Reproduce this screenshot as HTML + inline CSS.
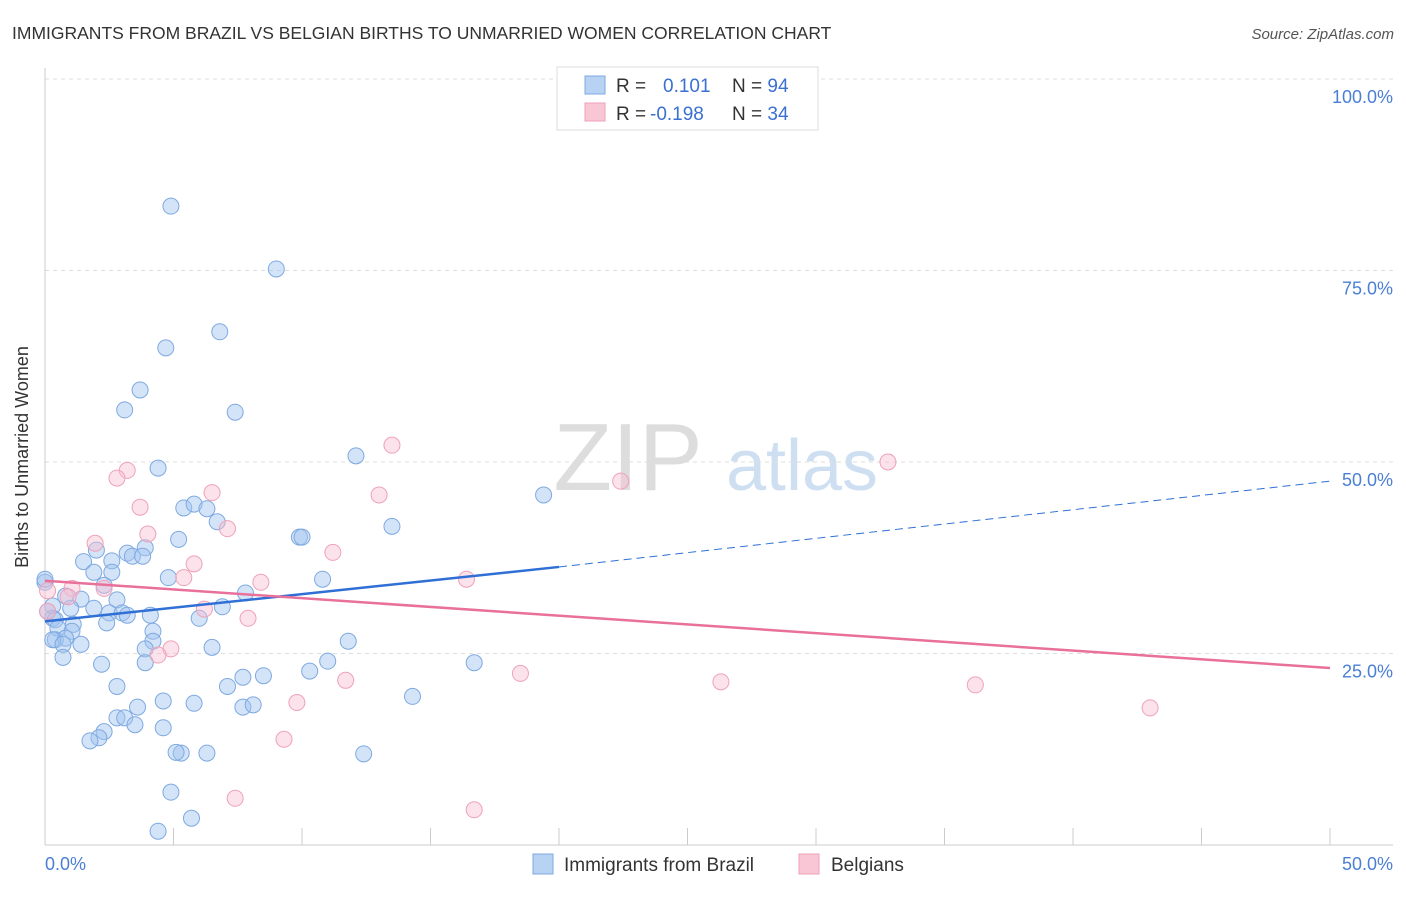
<!DOCTYPE html>
<html><head><meta charset="utf-8"><style>
body{margin:0;background:#fff;font-family:"Liberation Sans",sans-serif}
svg text{font-family:"Liberation Sans",sans-serif}
</style></head><body>
<svg id="chart" width="1406" height="892" xmlns="http://www.w3.org/2000/svg">
<text x="12" y="39" font-size="17.5" fill="#333">IMMIGRANTS FROM BRAZIL VS BELGIAN BIRTHS TO UNMARRIED WOMEN CORRELATION CHART</text>
<text x="1394" y="39" font-size="15" fill="#555" font-style="italic" text-anchor="end">Source: ZipAtlas.com</text>
<g>
<text x="628" y="490" font-size="96" fill="#ddd" font-family="Liberation Serif,serif" text-anchor="middle">ZIP</text>
<text x="802" y="490" font-size="72" fill="#cfdff2" text-anchor="middle">atlas</text>
</g>
<g id="grid"></g>
<line x1="45" y1="68" x2="45" y2="845" stroke="#ccc"/>
<line x1="45" y1="845" x2="1393" y2="845" stroke="#ccc"/>
<text x="28" y="457" font-size="18" fill="#333" text-anchor="middle" transform="rotate(-90 28 457)">Births to Unmarried Women</text>
<text x="45" y="870" font-size="18" fill="#4a7fd4">0.0%</text>
<text x="1393" y="870" font-size="18" fill="#4a7fd4" text-anchor="end">50.0%</text>
<g id="points"></g>
<g id="trends"></g>
<g>
<rect x="557" y="67" width="261" height="63" fill="#fff" stroke="#ddd"/>
<rect x="585" y="76" width="20" height="18" fill="#b7d2f3" stroke="#7ea9e0"/>
<rect x="585" y="103" width="20" height="18" fill="#f9c6d5" stroke="#eea2b8"/>
<text x="616" y="92" font-size="19" fill="#333">R = <tspan fill="#3a70d0" x="663">0.101</tspan><tspan x="732" fill="#333">N = </tspan><tspan fill="#3a70d0">94</tspan></text>
<text x="616" y="120" font-size="19" fill="#333">R = <tspan fill="#3a70d0" x="650">-0.198</tspan><tspan x="732" fill="#333">N = </tspan><tspan fill="#3a70d0">34</tspan></text>
</g>
<g>
<rect x="533" y="854" width="20" height="20" fill="#b7d2f3" stroke="#7ea9e0"/>
<text x="564" y="871" font-size="19" fill="#333">Immigrants from Brazil</text>
<rect x="799" y="854" width="20" height="20" fill="#f9c6d5" stroke="#eea2b8"/>
<text x="831" y="871" font-size="19" fill="#333">Belgians</text>
</g>
</svg>
<script>
const yTicks=[25,50,75,100];
const xTicks=[0,5,10,15,20,25,30,35,40,45,50];
const brazilX=[4.9,9.0,6.8,4.7,3.7,3.1,7.4,4.4,12.1,19.4,5.4,5.8,6.3,6.7,13.5,9.9,10.0,5.2,2.0,3.2,3.4,3.9,3.8,1.5,2.6,1.9,2.6,4.8,10.8,2.3,0.0,0.8,1.4,2.8,0.3,1.0,1.9,2.5,3.0,3.2,4.1,6.9,7.8,0.1,0.3,0.4,1.1,0.5,1.05,2.4,6.0,4.2,0.4,0.8,0.3,0.7,1.4,4.2,11.8,3.9,6.5,0.7,2.2,3.9,11.0,16.7,10.3,7.7,8.5,7.1,2.8,14.3,4.6,5.8,7.7,8.1,3.6,2.8,3.1,3.5,4.6,2.3,2.1,1.75,5.3,5.1,6.3,12.4,4.9,5.7,4.4,0.0];
const brazilY=[83.4,75.2,67.0,64.9,59.4,56.8,56.5,49.2,50.8,45.7,44.0,44.5,43.9,42.2,41.6,40.2,40.2,39.9,38.5,38.1,37.7,38.8,37.7,37.0,37.1,35.6,35.6,34.9,34.7,33.9,34.3,32.5,32.1,32.0,31.2,30.9,30.9,30.3,30.3,30.0,30.0,31.1,32.9,30.5,29.6,29.4,28.8,28.3,27.9,29.0,29.6,27.9,26.8,27.0,26.8,26.2,26.2,26.6,26.6,25.6,25.8,24.5,23.6,23.8,24.0,23.8,22.7,21.9,22.1,20.7,20.7,19.4,18.8,18.5,18.0,18.3,18.0,16.6,16.6,15.7,15.3,14.8,14.0,13.6,12.0,12.1,12.0,11.9,6.9,3.5,1.8,34.7];
const belX=[13.5,32.8,3.2,2.8,22.4,6.5,13.0,3.7,4.0,7.1,1.95,11.2,5.8,5.4,16.4,8.4,2.3,1.05,0.1,0.9,6.2,7.9,4.9,4.4,18.5,11.7,26.3,36.2,43.0,9.8,9.3,7.4,16.7,0.1];
const belY=[52.2,50.0,48.9,47.9,47.5,46.0,45.7,44.1,40.6,41.3,39.4,38.2,36.7,34.9,34.7,34.3,33.5,33.5,33.2,32.4,30.8,29.6,25.6,24.8,22.4,21.5,21.3,20.9,17.9,18.6,13.8,6.1,4.6,30.5];
const brazilTrend=[0,29.2,20,36.3,50,47.5];
const belTrend=[0,34.5,50,23.1];
const X=v=>45+v*25.7, Y=v=>845-v*7.66;
const NS='http://www.w3.org/2000/svg';
function mk(t,a,p){const e=document.createElementNS(NS,t);for(const k in a)e.setAttribute(k,a[k]);document.getElementById(p).appendChild(e);return e;}
yTicks.forEach(v=>{
 const l=mk('line',{x1:45,x2:1393,y1:Y(v),y2:Y(v),stroke:'#ddd','stroke-dasharray':'4,4'},'grid');
 
 
 const t=mk('text',{x:1393,y:Y(v)+24,'font-size':18,fill:'#4a7fd4','text-anchor':'end'},'grid');t.textContent=v.toFixed(1)+'%';
 
 
});
xTicks.forEach(v=>{
 const l=mk('line',{x1:X(v),x2:X(v),y1:828,y2:845,stroke:'#ccc'},'grid');
 
 
});
brazilX.forEach((x,i)=>{
 const c=mk('circle',{cx:X(x),cy:Y(brazilY[i]),r:8,fill:'rgba(160,196,240,0.45)',stroke:'#7ea9e0','stroke-width':1},'points');
 
 
});
belX.forEach((x,i)=>{
 const c=mk('circle',{cx:X(x),cy:Y(belY[i]),r:8,fill:'rgba(248,190,210,0.45)',stroke:'#eea2b8','stroke-width':1},'points');
 
 
});
let l=mk('line',{x1:X(brazilTrend[0]),y1:Y(brazilTrend[1]),x2:X(brazilTrend[2]),y2:Y(brazilTrend[3]),stroke:'#2f6fd6','stroke-width':2.5},'trends');


l=mk('line',{x1:X(brazilTrend[2]),y1:Y(brazilTrend[3]),x2:X(brazilTrend[4]),y2:Y(brazilTrend[5]),stroke:'#2f6fd6','stroke-width':1,'stroke-dasharray':'8,5'},'trends');


l=mk('line',{x1:X(belTrend[0]),y1:Y(belTrend[1]),x2:X(belTrend[2]),y2:Y(belTrend[3]),stroke:'#e8709a','stroke-width':2.5},'trends');


</script>
</body></html>
